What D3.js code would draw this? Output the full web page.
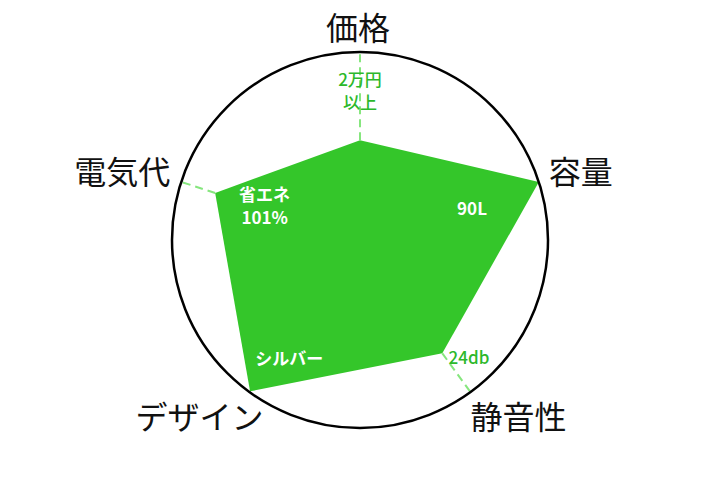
<!DOCTYPE html>
<html>
<head>
<meta charset="utf-8">
<script src="https://cdn.jsdelivr.net/npm/d3@7"></script>
<style>
  html, body { margin: 0; padding: 0; background: #fff; }
  text { font-family: "Noto Sans CJK JP", "Noto Sans", sans-serif; }
</style>
</head>
<body>
<svg id="chart" width="720" height="480"></svg>
<script>
// --- Data ---
const categories = ["価格", "容量", "静音性", "デザイン", "電気代"];
const scores = [0.53, 1.0, 0.745, 0.995, 0.81];
const noteLines = [["2万円", "以上"], ["90L"], ["24db"], ["シルバー"], ["省エネ", "101%"]];
const noteInside = [false, true, false, true, true];

const width = 720, height = 480;
const cx = 360, cy = 240, radius = 188;

const svg = d3.select("#chart");
const g = svg.append("g").attr("transform", `translate(${cx},${cy})`);

const rScale = d3.scaleLinear().domain([0, 1]).range([0, radius]);
const angle = d3.scaleLinear().domain([0, categories.length]).range([0, 2 * Math.PI]);

// point on axis i at value v (angle measured clockwise from 12 o'clock)
const pt = (i, v) => {
    const a = angle(i);
    return [rScale(v) * Math.sin(a), -rScale(v) * Math.cos(a)];
};

// --- Filled area ---
const radar = d3.lineRadial()
    .angle((d, i) => angle(i))
    .radius(d => rScale(d))
    .curve(d3.curveLinearClosed);

g.append("path")
    .datum(scores)
    .attr("d", radar)
    .attr("fill", "#34c62a");

// --- Dashed guides from vertex to circle ---
g.selectAll(".guide")
    .data(scores)
    .join("line")
    .attr("class", "guide")
    .attr("x1", (d, i) => pt(i, d)[0])
    .attr("y1", (d, i) => pt(i, d)[1])
    .attr("x2", (d, i) => pt(i, 1)[0])
    .attr("y2", (d, i) => pt(i, 1)[1])
    .attr("stroke", "#86e67e")
    .attr("stroke-width", 2)
    .attr("stroke-dasharray", "8,5");

// --- Outer circle ---
g.append("circle")
    .attr("r", rScale(1))
    .attr("fill", "none")
    .attr("stroke", "#000")
    .attr("stroke-width", 2.5);

// --- Category labels ---
const catLayout = [
    { dx: -2, dy: -26, anchor: "middle" },
    { dx: 10, dy: -12, anchor: "start" },
    { dx: 0, dy: 23, anchor: "start" },
    { dx: 14, dy: 23, anchor: "end" },
    { dx: -11, dy: -12, anchor: "end" }
];

g.selectAll(".cat")
    .data(categories)
    .join("text")
    .attr("class", "cat")
    .attr("x", (d, i) => pt(i, 1)[0] + catLayout[i].dx)
    .attr("y", (d, i) => pt(i, 1)[1] + catLayout[i].dy)
    .attr("text-anchor", (d, i) => catLayout[i].anchor)
    .attr("dominant-baseline", "central")
    .attr("font-size", 32)
    .attr("fill", "#111")
    .text(d => d);

// --- Notes (spec values) ---
// position given as angle offset (deg) and radius in score units
const noteLayout = [
    { da: 0, r: 0.80 },
    { da: 2, r: 0.62 },
    { da: -7, r: 0.85 },
    { da: -5, r: 0.73 },
    { da: 2, r: 0.54 }
];

g.selectAll(".note")
    .data(noteLines)
    .join("text")
    .attr("class", "note")
    .attr("text-anchor", "middle")
    .attr("font-size", 17)
    .attr("font-weight", (d, i) => noteInside[i] ? 700 : 500)
    .attr("fill", (d, i) => noteInside[i] ? "#fff" : "#2cb82a")
    .each(function (lines, i) {
        const a = angle(i) + noteLayout[i].da * Math.PI / 180;
        const r = rScale(noteLayout[i].r);
        const x = r * Math.sin(a), y = -r * Math.cos(a);
        const lh = 23;
        const y0 = y - (lines.length - 1) * lh / 2;
        d3.select(this).selectAll("tspan")
            .data(lines)
            .join("tspan")
            .attr("x", x)
            .attr("y", (l, j) => y0 + j * lh)
            .attr("dominant-baseline", "central")
            .text(l => l);
    });
</script>
</body>
</html>
